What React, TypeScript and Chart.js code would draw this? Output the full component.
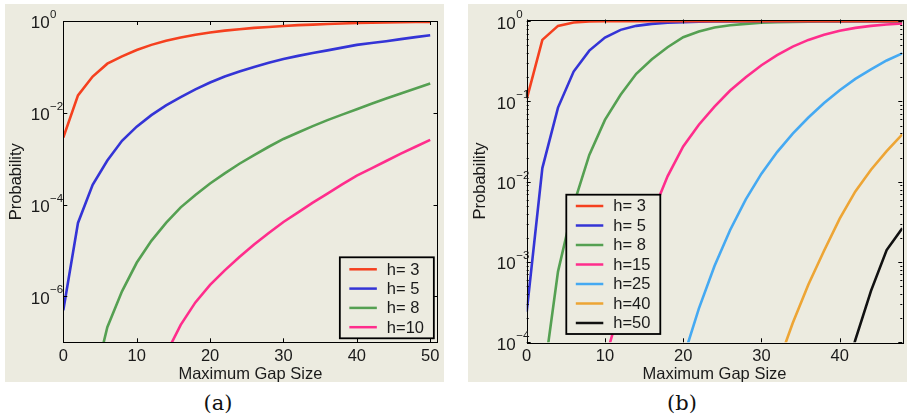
import React, { useEffect, useRef } from 'react';
import { Chart, registerables } from 'chart.js';

Chart.register(...registerables);

const FONT = "'Liberation Sans', Arial, Helvetica, sans-serif";
const BG = '#ECEBE0';
const INK = '#1a1a1a';

// ---------- panel (a) ----------
const gapA = [0, 2, 4, 6, 8, 10, 12, 14, 16, 18, 20, 22, 24, 26, 28, 30, 32, 34, 36, 38, 40, 42, 44, 46, 48, 50];
const h3A = [0.00288, 0.024, 0.0617, 0.1175, 0.17, 0.234, 0.302, 0.372, 0.437, 0.501, 0.562, 0.617, 0.661, 0.708, 0.741, 0.776, 0.813, 0.832, 0.861, 0.881, 0.902, 0.916, 0.929, 0.94, 0.951, 0.957];
const h5A = [5.0e-7, 3.98e-5, 2.69e-4, 9.1e-4, 2.45e-3, 5.0e-3, 8.9e-3, 0.01445, 0.0219, 0.0324, 0.0457, 0.0617, 0.0794, 0.1, 0.123, 0.148, 0.174, 0.2, 0.229, 0.263, 0.302, 0.331, 0.363, 0.403, 0.445, 0.49];
const h8A = [null, null, 1e-8, 2.14e-7, 1.29e-6, 5.4e-6, 1.62e-5, 3.98e-5, 8.7e-5, 1.62e-4, 2.88e-4, 4.79e-4, 7.76e-4, 1.2e-3, 1.82e-3, 2.69e-3, 3.72e-3, 5.13e-3, 6.92e-3, 9.12e-3, 0.012, 0.0158, 0.0204, 0.0263, 0.0339, 0.0437];
const h10A = [null, null, null, null, null, null, null, 5.6e-8, 2.4e-7, 7.4e-7, 1.78e-6, 3.7e-6, 7.2e-6, 1.35e-5, 2.4e-5, 4.17e-5, 6.76e-5, 1.1e-4, 1.74e-4, 2.75e-4, 4.27e-4, 6.17e-4, 8.91e-4, 1.29e-3, 1.82e-3, 2.57e-3];
const labelsA = ['h= 3', 'h= 5', 'h= 8', 'h=10'];
const xTicksA = [0, 10, 20, 30, 40, 50];
const yExpA = [0, -2, -4, -6];

// ---------- panel (b) ----------
const gapB = [0, 2, 4, 6, 8, 10, 12, 14, 16, 18, 20, 22, 24, 26, 28, 30, 32, 34, 36, 38, 40, 42, 44, 46, 48];
const h3B = [0.107, 0.585, 0.875, 0.962, 0.99, 0.997, 0.999, 1, 1, 1, 1, 1, 1, 1, 1, 1, 1, 1, 1, 1, 1, 1, 1, 1, 1];
const h5B = [2.4e-4, 0.0148, 0.084, 0.236, 0.43, 0.625, 0.78, 0.875, 0.927, 0.955, 0.973, 0.984, 0.991, 0.995, 0.997, 0.998, 0.999, 0.999, 1, 1, 1, 1, 1, 1, 1];
const h8B = [null, 2.8e-5, 7.6e-4, 5.2e-3, 0.0216, 0.0589, 0.121, 0.221, 0.336, 0.474, 0.631, 0.743, 0.834, 0.891, 0.927, 0.955, 0.97, 0.982, 0.989, 0.993, 0.996, 0.997, 0.998, 0.999, 0.999];
const h15B = [null, null, null, null, null, 6.0e-5, 2.82e-4, 1.1e-3, 3.89e-3, 0.0117, 0.0275, 0.0513, 0.0865, 0.137, 0.2, 0.283, 0.377, 0.483, 0.585, 0.676, 0.759, 0.826, 0.875, 0.908, 0.935];
const h25B = [null, null, null, null, null, null, null, null, null, null, 6.3e-5, 2.63e-4, 8.9e-4, 2.51e-3, 6.03e-3, 0.0126, 0.0234, 0.0398, 0.0631, 0.0955, 0.138, 0.191, 0.251, 0.324, 0.398];
const h40B = [null, null, null, null, null, null, null, null, null, null, null, null, null, null, null, null, 5.0e-5, 1.74e-4, 5.25e-4, 1.38e-3, 3.47e-3, 7.59e-3, 0.0141, 0.024, 0.0389];
const h50B = [null, null, null, null, null, null, null, null, null, null, null, null, null, null, null, null, null, null, null, null, 2.4e-5, 1.07e-4, 4.37e-4, 1.41e-3, 2.63e-3];
const labelsB = ['h= 3', 'h= 5', 'h= 8', 'h=15', 'h=25', 'h=40', 'h=50'];
const xTicksB = [0, 10, 20, 30, 40];
const yExpB = [0, -1, -2, -3, -4];

const COLORS = ['#F5401F', '#3434D6', '#55A052', '#FF2D8C', '#45A9F2', '#EDA535', '#111111'];

type Cfg = {
  gaps: number[];
  series: (number | null)[][];
  labels: string[];
  xMax: number;
  yMin: number;
  yMax: number;
  xTicks: number[];
  yExps: number[];
  minor: boolean;
  pad: { left: number; top: number; right: number; bottom: number };
  yWidth: number;
  xHeight: number;
  yTitlePad: number;
  labelGap: number;
  legend: { anchor: 'right' | 'left'; dx: number; dy: number; w: number; h: number; first: number; step: number };
};

function makePlugin(cfg: Cfg) {
  return {
    id: 'matlabAxes',
    afterDatasetsDraw(chart: any) {
      const { ctx, chartArea: ca, scales } = chart;
      const xs = scales.x;
      const ys = scales.y;
      ctx.save();
      ctx.strokeStyle = '#000';
      ctx.lineWidth = 1;
      ctx.beginPath();
      const tl = 4;
      for (const v of cfg.xTicks) {
        const px = Math.round(xs.getPixelForValue(v)) + 0.5;
        ctx.moveTo(px, ca.bottom);
        ctx.lineTo(px, ca.bottom - tl);
        ctx.moveTo(px, ca.top);
        ctx.lineTo(px, ca.top + tl);
      }
      for (const e of cfg.yExps) {
        const py = Math.round(ys.getPixelForValue(Math.pow(10, e))) + 0.5;
        ctx.moveTo(ca.left, py);
        ctx.lineTo(ca.left + tl, py);
        ctx.moveTo(ca.right, py);
        ctx.lineTo(ca.right - tl, py);
      }
      if (cfg.minor) {
        for (const e of cfg.yExps) {
          if (e === 0) continue;
          for (let m = 2; m <= 9; m++) {
            const val = m * Math.pow(10, e);
            const py = Math.round(ys.getPixelForValue(val)) + 0.5;
            ctx.moveTo(ca.left, py);
            ctx.lineTo(ca.left + 2, py);
            ctx.moveTo(ca.right, py);
            ctx.lineTo(ca.right - 2, py);
          }
        }
      }
      ctx.stroke();
      ctx.strokeRect(Math.round(ca.left) + 0.5, Math.round(ca.top) + 0.5, Math.round(ca.right - ca.left), Math.round(ca.bottom - ca.top));

      // y tick labels with superscript exponents
      ctx.fillStyle = INK;
      for (const e of cfg.yExps) {
        const py = ys.getPixelForValue(Math.pow(10, e));
        const xr = ca.left - cfg.labelGap;
        ctx.font = `17px ${FONT}`;
        ctx.textAlign = 'right';
        ctx.textBaseline = 'alphabetic';
        ctx.fillText('10', xr, py + 7.3);
        ctx.font = `11.5px ${FONT}`;
        ctx.textAlign = 'left';
        ctx.fillText(e === 0 ? '0' : '\u2212' + Math.abs(e), xr + 0.5, py - 3);
      }

      // legend
      const L = cfg.legend;
      const lx = L.anchor === 'right' ? ca.right - L.dx - L.w : ca.left + L.dx;
      const ly = ca.bottom - L.dy - L.h;
      ctx.fillStyle = BG;
      ctx.fillRect(lx, ly, L.w, L.h);
      ctx.lineWidth = 1.8;
      ctx.strokeStyle = '#000';
      ctx.strokeRect(lx, ly, L.w, L.h);
      chart.data.datasets.forEach((ds: any, i: number) => {
        const y = ly + L.first + i * L.step;
        ctx.strokeStyle = ds.borderColor;
        ctx.lineWidth = 2.5;
        ctx.beginPath();
        ctx.moveTo(lx + 9.5, y);
        ctx.lineTo(lx + 37, y);
        ctx.stroke();
        ctx.fillStyle = INK;
        ctx.font = `16.5px ${FONT}`;
        ctx.textAlign = 'left';
        ctx.textBaseline = 'middle';
        ctx.fillText(ds.label, lx + 47, y + 0.8);
      });
      ctx.restore();
    },
  };
}

const cfgA: Cfg = {
  gaps: gapA,
  series: [h3A, h5A, h8A, h10A],
  labels: labelsA,
  xMax: 51,
  yMin: 1e-7,
  yMax: 1,
  xTicks: xTicksA,
  yExps: yExpA,
  minor: false,
  pad: { left: 0, top: 17, right: 6.3, bottom: 0 },
  yWidth: 58.3,
  xHeight: 39.7,
  yTitlePad: 2.1,
  labelGap: 13.7,
  legend: { anchor: 'right', dx: 3.7, dy: 4, w: 94, h: 81, first: 12, step: 19.3 },
};

const cfgB: Cfg = {
  gaps: gapB,
  series: [h3B, h5B, h8B, h15B, h25B, h40B, h50B],
  labels: labelsB,
  xMax: 48,
  yMin: 1e-4,
  yMax: 1.05,
  xTicks: xTicksB,
  yExps: yExpB,
  minor: true,
  pad: { left: 0, top: 15.5, right: 4.7, bottom: 0 },
  yWidth: 58.7,
  xHeight: 39.7,
  yTitlePad: 2.4,
  labelGap: 11,
  legend: { anchor: 'left', dx: 39.6, dy: 8.3, w: 94, h: 139.3, first: 11.3, step: 19.5 },
};

function Panel({ cfg }: { cfg: Cfg }) {
  const ref = useRef<HTMLCanvasElement>(null);
  useEffect(() => {
    const datasets = cfg.series.map((vals, i) => ({
      label: cfg.labels[i],
      data: cfg.gaps.map((g, j) => ({ x: g, y: vals[j] })),
      borderColor: COLORS[i],
      backgroundColor: COLORS[i],
      borderWidth: 2.6,
      pointRadius: 0,
      tension: 0,
      fill: false,
    }));
    const chart = new Chart(ref.current as HTMLCanvasElement, {
      type: 'line',
      data: { datasets: datasets as any },
      plugins: [makePlugin(cfg) as any],
      options: {
        animation: false,
        responsive: false,
        maintainAspectRatio: false,
        events: [],
        layout: { padding: cfg.pad },
        plugins: { legend: { display: false }, tooltip: { enabled: false }, title: { display: false } },
        scales: {
          x: {
            type: 'linear',
            position: 'bottom',
            min: 0,
            max: cfg.xMax,
            afterBuildTicks: (s: any) => {
              s.ticks = cfg.xTicks.map((v) => ({ value: v }));
            },
            afterFit: (s: any) => {
              s.height = cfg.xHeight;
            },
            grid: { display: false, drawTicks: false },
            border: { display: false },
            ticks: {
              font: { family: FONT, size: 16.5 },
              color: INK,
              padding: 4.5,
              maxRotation: 0,
              autoSkip: false,
              callback: (v: any) => String(v),
            },
            title: {
              display: true,
              text: 'Maximum Gap Size',
              color: INK,
              font: { family: FONT, size: 16.5, lineHeight: 0.8 },
              padding: { top: 0, bottom: 0.6 },
            },
          },
          y: {
            type: 'logarithmic',
            min: cfg.yMin,
            max: cfg.yMax,
            afterFit: (s: any) => {
              s.width = cfg.yWidth;
            },
            grid: { display: false, drawTicks: false },
            border: { display: false },
            ticks: { display: false },
            title: {
              display: true,
              text: 'Probability',
              color: INK,
              font: { family: FONT, size: 16.5, lineHeight: 1.2 },
              padding: { top: cfg.yTitlePad - 0.3, bottom: 0 },
            },
          },
        },
      } as any,
    });
    return () => chart.destroy();
  }, [cfg]);
  return <canvas ref={ref} width={439} height={378} style={{ display: 'block', width: 439, height: 378 }} />;
}

const capStyle: React.CSSProperties = {
  position: 'absolute',
  top: 393,
  width: 100,
  textAlign: 'center',
  fontFamily: "'DejaVu Serif', 'Liberation Serif', serif",
  fontSize: 21,
  lineHeight: '21px',
  color: '#111',
};

export default function App() {
  return (
    <div style={{ position: 'absolute', left: 0, top: 0, width: 907, height: 420, background: '#fff', overflow: 'hidden' }}>
      <div style={{ position: 'absolute', left: 5, top: 4, width: 439, height: 378, background: BG }}>
        <Panel cfg={cfgA} />
      </div>
      <div style={{ position: 'absolute', left: 468, top: 4, width: 439, height: 378, background: BG }}>
        <Panel cfg={cfgB} />
      </div>
      <div style={{ ...capStyle, left: 168 }}>(a)</div>
      <div style={{ ...capStyle, left: 632 }}>(b)</div>
    </div>
  );
}
